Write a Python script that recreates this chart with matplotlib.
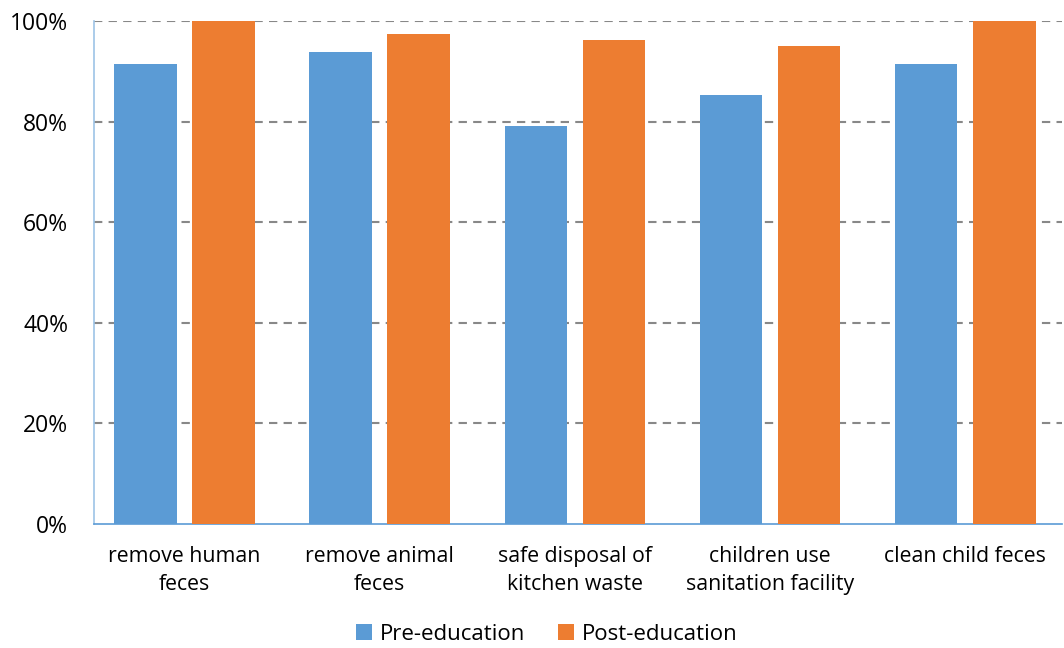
import matplotlib
matplotlib.use("Agg")
import matplotlib.pyplot as plt
import numpy as np
from matplotlib.ticker import FuncFormatter

categories = ["remove human\nfeces", "remove animal\nfeces", "safe disposal of\nkitchen waste",
              "children use\nsanitation facility", "clean child feces"]
pre_education = [91.4, 93.8, 79.2, 85.3, 91.4]
post_education = [100.0, 97.5, 96.2, 95.0, 100.0]
series_names = ["Pre-education", "Post-education"]
yticks = [0, 20, 40, 60, 80, 100]

plt.rcParams['font.family'] = ['Open Sans', 'DejaVu Sans']

fig = plt.figure(figsize=(10.64, 6.48), dpi=100)
ax = fig.add_axes([94/1064, 124/648, (1062-94)/1064, (524-21)/648])

x = np.arange(len(categories))
w = 0.32
ax.bar(x - 0.2, pre_education, w, color='#5B9BD5', label=series_names[0], zorder=3)
ax.bar(x + 0.2, post_education, w, color='#ED7D31', label=series_names[1], zorder=3)

ax.set_xlim(-0.4636, 4.4955)
ax.set_ylim(0, 100)
ax.set_yticks(yticks)
ax.yaxis.set_major_formatter(FuncFormatter(lambda v, p: f"{int(v)}%"))
ax.set_xticks(x)
ax.set_xticklabels(categories, fontsize=15.3, linespacing=1.4)
ax.tick_params(axis='y', labelsize=16.5, length=0, pad=18.5)
ax.tick_params(axis='x', length=0, pad=16)

ax.grid(axis='y', color='#888888', linestyle=(0, (4, 3)), linewidth=1.5, zorder=0)
ax.yaxis.get_gridlines()[0].set_visible(False)
for s in ['top', 'right']:
    ax.spines[s].set_visible(False)
ax.spines['left'].set_color('#9DC3E6')
ax.spines['bottom'].set_color('#5B9BD5')
ax.spines['left'].set_linewidth(1.2)
ax.spines['bottom'].set_linewidth(1.2)

fig.legend(loc='center', bbox_to_anchor=(547/1064, 1 - 634/648), ncol=2, frameon=False,
           fontsize=16, handlelength=0.7, handleheight=0.7, handletextpad=0.35,
           columnspacing=1.5)

fig.savefig("out.png", dpi=100)
